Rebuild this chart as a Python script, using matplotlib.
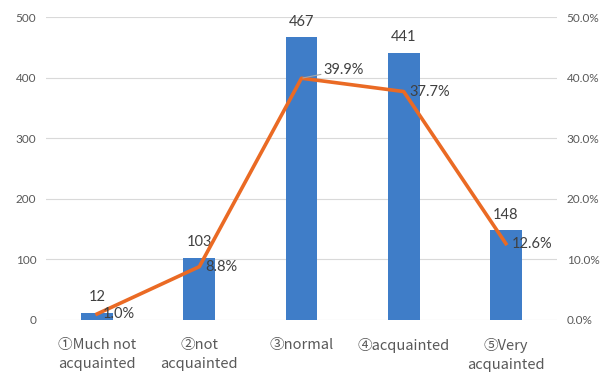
import matplotlib
matplotlib.use("Agg")
import matplotlib.pyplot as plt
import numpy as np

categories = ["\u2460Much not\nacquainted", "\u2461not\nacquainted", "\u2462normal",
              "\u2463acquainted", "\u2464Very\nacquainted"]
counts = [12, 103, 467, 441, 148]
percents = [1.0, 8.8, 39.9, 37.7, 12.6]

bar_colour = "#3F7DC8"
line_colour = "#EA6A24"
text_colour = "#404040"
tick_colour = "#595959"

plt.rcParams['font.family'] = ['Lato', 'Noto Sans CJK SC', 'DejaVu Sans']

fig = plt.figure(figsize=(6.11, 3.74), dpi=100)
ax = fig.add_axes([0.0753, 0.1444, 0.8363, 0.8101])
ax2 = ax.twinx()

x = np.arange(len(categories))
ax.bar(x, counts, width=0.31, color=bar_colour, zorder=2)
ax.set_xlim(-0.5, len(categories) - 0.5)
ax.set_ylim(0, 500)
ax.set_yticks(np.arange(0, 501, 100))
ax.grid(axis='y', color='#D9D9D9', linewidth=0.8, zorder=0)
ax.set_axisbelow(True)

# category labels: CJK family so the circled digits come out full size
ax.set_xticks(x)
ax.set_xticklabels(categories, fontsize=10.5, color=tick_colour, va='top',
                   linespacing=1.45, family=['Noto Sans CJK JP', 'DejaVu Sans'])
ax.tick_params(axis='x', length=0, pad=13)
ax.tick_params(axis='y', length=0, labelsize=8.5, labelcolor=tick_colour, pad=7)

for xi, c in zip(x, counts):
    ax.annotate(str(c), (xi, c), xytext=(0, 6), textcoords='offset points',
                ha='center', va='bottom', fontsize=10.5, color=text_colour)

ax2.plot(x, percents, color=line_colour, linewidth=2.6, zorder=3)
ax2.set_ylim(0, 50)
ax2.set_yticks(np.arange(0, 51, 10))
ax2.set_yticklabels([f"{v:.1f}%" for v in np.arange(0, 51, 10)])
ax2.tick_params(axis='y', length=0, labelsize=8.5, labelcolor=tick_colour, pad=7)

for xi, p in zip(x, percents):
    if p == max(percents):
        ax2.annotate(f"{p:.1f}%", (xi, p), xytext=(16, 6), textcoords='offset points',
                     ha='left', va='center', fontsize=10.5, color=text_colour,
                     arrowprops=dict(arrowstyle='-', color='#A6A6A6', lw=0.8,
                                     shrinkA=0, shrinkB=1))
    else:
        ax2.annotate(f"{p:.1f}%", (xi, p), xytext=(4, 0), textcoords='offset points',
                     ha='left', va='center', fontsize=10.5, color=text_colour)

for a in (ax, ax2):
    for s in a.spines.values():
        s.set_visible(False)

fig.savefig("out.png", dpi=100, facecolor='white')
